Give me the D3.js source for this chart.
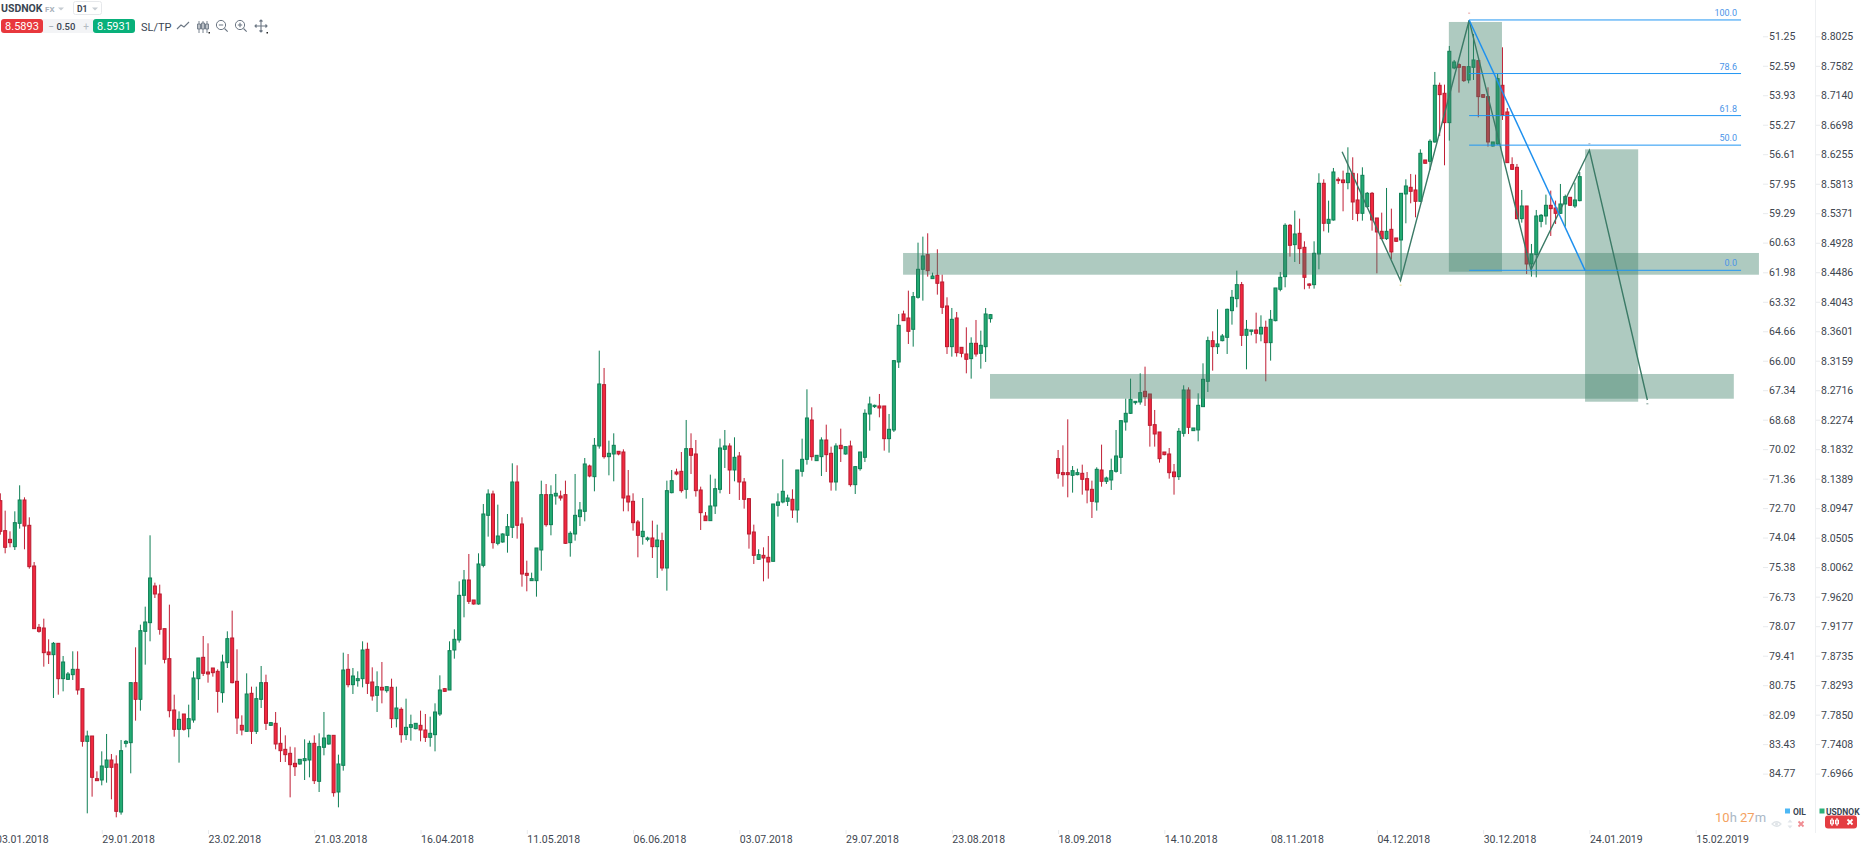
<!DOCTYPE html>
<html><head><meta charset="utf-8">
<script src="https://cdnjs.cloudflare.com/ajax/libs/d3/7.8.5/d3.min.js"></script>
<style>
html,body{margin:0;padding:0;background:#fff;overflow:hidden}
svg{display:block;font-family:Roboto,sans-serif}
</style></head><body>
<svg id="c" width="1866" height="853"></svg>
<script>
const n=null;
const opens=[8.106,8.061,8.048,8.037,8.072,8.107,8.069,8.008,7.916,7.915,
7.879,7.875,7.892,7.839,7.838,7.845,7.853,7.824,7.745,7.753,
7.689,7.687,7.706,7.717,7.711,7.639,7.742,7.743,7.833,7.808,
7.910,7.923,7.978,7.966,7.914,7.869,7.792,7.763,7.786,7.764,
7.777,7.839,7.871,7.849,7.855,7.850,7.818,7.863,7.900,7.835,
7.769,7.760,7.817,7.760,7.808,7.833,7.769,7.772,7.742,7.733,
7.727,7.712,7.711,7.716,7.717,7.742,7.685,7.736,7.741,7.754,
7.669,7.709,7.853,7.830,7.836,7.839,7.883,7.834,7.814,7.826,
7.821,7.826,7.779,7.793,7.755,7.766,7.764,7.769,7.762,7.751,
7.755,7.786,7.824,7.822,7.882,7.897,7.964,7.987,7.957,7.951,
8.009,8.084,8.116,8.042,8.044,8.054,8.066,8.134,8.071,7.997,
7.986,7.986,8.032,8.115,8.070,8.113,8.113,8.115,8.043,8.056,
8.082,8.090,8.158,8.142,8.188,8.280,8.172,8.176,8.180,8.179,
8.113,8.105,8.074,8.052,8.048,8.050,8.037,8.046,8.005,8.118,
8.149,8.150,8.123,8.184,8.176,8.122,8.083,8.076,8.098,8.123,
8.183,8.188,8.152,8.173,8.134,8.109,8.059,8.018,8.024,8.021,
8.015,8.099,8.104,8.105,8.108,8.092,8.150,8.168,8.227,8.166,
8.172,8.197,8.177,8.134,8.189,8.176,8.188,8.130,8.154,8.171,
8.236,8.247,8.248,8.248,8.199,8.212,8.314,8.386,8.380,8.363,
8.411,8.453,8.475,8.439,8.444,8.434,8.398,8.337,8.380,8.336,
8.326,8.319,8.342,8.327,8.337,8.379,
n,n,n,n,n,n,n,n,n,n,n,n,n,
8.169,8.148,8.148,8.144,8.145,8.147,8.139,8.123,8.104,8.152,8.135,
8.137,8.150,8.171,8.224,8.237,8.253,8.254,8.270,8.266,8.220,
8.209,8.179,8.176,8.149,8.142,8.207,8.272,8.211,8.212,8.247,
8.285,8.346,8.337,8.346,8.351,8.391,8.409,8.430,8.354,8.360,
8.362,8.356,8.366,8.343,8.376,8.423,8.442,8.519,8.490,8.507,
8.486,8.431,8.430,8.476,8.582,8.522,8.527,8.588,8.587,8.583,
8.597,8.557,8.537,8.547,8.567,8.530,8.510,8.499,8.513,8.500,
8.497,8.566,8.576,8.572,8.555,8.617,8.615,8.644,8.729,8.717,
8.673,8.755,8.760,8.757,8.737,8.756,8.766,8.715,8.712,8.638,
8.641,8.729,8.689,8.610,8.606,8.529,8.548,8.461,8.475,8.525,
8.533,8.549,8.545,8.537,8.551,8.561,8.548,8.556];
const closes=[8.060,8.036,8.043,8.073,8.107,8.068,8.007,7.914,7.910,7.878,
7.875,7.892,7.839,7.864,7.846,7.853,7.822,7.745,7.753,7.691,
7.686,7.708,7.717,7.706,7.640,7.731,7.745,7.833,7.808,7.911,
7.924,7.990,7.966,7.913,7.868,7.791,7.763,7.778,7.763,7.779,
7.840,7.870,7.847,7.846,7.848,7.820,7.864,7.899,7.833,7.780,
7.762,7.816,7.760,7.809,7.833,7.772,7.773,7.741,7.731,7.725,
7.710,7.707,7.718,7.719,7.742,7.686,7.737,7.750,7.754,7.668,
7.711,7.852,7.830,7.843,7.839,7.882,7.832,7.813,7.827,7.822,
7.827,7.779,7.795,7.755,7.766,7.770,7.772,7.762,7.751,7.757,
7.789,7.822,7.820,7.881,7.898,7.964,7.987,7.955,7.951,8.011,
8.086,8.116,8.043,8.053,8.056,8.067,8.134,8.069,7.996,7.994,
7.989,8.035,8.115,8.070,8.115,8.117,8.110,8.042,8.057,8.084,
8.092,8.161,8.143,8.189,8.281,8.172,8.177,8.189,8.176,8.110,
8.104,8.073,8.054,8.060,8.050,8.037,8.047,8.005,8.121,8.136,
8.146,8.121,8.184,8.174,8.121,8.088,8.076,8.098,8.124,8.185,
8.188,8.152,8.171,8.134,8.108,8.056,8.024,8.025,8.020,8.014,
8.101,8.104,8.120,8.110,8.092,8.152,8.168,8.230,8.172,8.174,
8.197,8.175,8.134,8.188,8.184,8.187,8.130,8.157,8.179,8.237,
8.251,8.249,8.245,8.199,8.213,8.316,8.369,8.376,8.360,8.412,
8.453,8.473,8.451,8.443,8.432,8.396,8.337,8.378,8.328,8.327,
8.318,8.342,8.326,8.339,8.386,8.385,
n,n,n,n,n,n,n,n,n,n,n,n,n,
8.147,8.145,8.145,8.151,8.148,8.138,8.122,8.105,8.153,8.135,8.140,
8.151,8.173,8.226,8.237,8.258,8.255,8.268,8.262,8.219,8.206,
8.169,8.175,8.148,8.142,8.210,8.272,8.216,8.215,8.249,8.288,
8.346,8.337,8.341,8.353,8.393,8.411,8.430,8.354,8.363,8.362,
8.357,8.366,8.343,8.378,8.425,8.441,8.519,8.489,8.506,8.484,
8.441,8.429,8.477,8.582,8.522,8.528,8.599,8.586,8.583,8.597,
8.554,8.537,8.594,8.567,8.527,8.509,8.499,8.510,8.479,8.495,
8.567,8.578,8.570,8.555,8.627,8.612,8.645,8.729,8.715,8.673,
8.780,8.764,8.756,8.736,8.757,8.767,8.712,8.711,8.644,8.644,
8.739,8.685,8.613,8.603,8.529,8.548,8.461,8.476,8.533,8.534,
8.549,8.544,8.537,8.551,8.562,8.549,8.557,8.592];
const highs=[8.117,8.091,8.060,8.090,8.129,8.111,8.081,8.014,7.921,7.929,
7.898,7.894,7.892,7.873,7.849,7.880,7.880,7.824,7.761,7.753,
7.700,7.730,7.756,7.726,7.724,7.747,7.747,7.833,7.886,7.920,
7.947,8.054,7.983,7.980,7.914,7.950,7.815,7.790,7.786,7.800,
7.850,7.870,7.903,7.892,7.855,7.853,7.875,7.910,7.941,7.883,
7.784,7.847,7.827,7.827,7.858,7.845,7.774,7.789,7.766,7.754,
7.737,7.736,7.718,7.748,7.746,7.754,7.757,7.789,7.755,7.754,
7.725,7.878,7.876,7.855,7.850,7.895,7.893,7.856,7.850,7.864,
7.827,7.839,7.827,7.796,7.809,7.785,7.772,7.791,7.786,7.782,
7.802,7.844,7.825,7.895,7.913,7.985,8.002,8.026,7.957,8.027,
8.101,8.123,8.121,8.100,8.057,8.086,8.162,8.159,8.081,8.016,
7.998,8.035,8.136,8.131,8.129,8.146,8.121,8.136,8.060,8.146,
8.104,8.170,8.160,8.200,8.331,8.305,8.196,8.207,8.180,8.183,
8.152,8.117,8.077,8.110,8.052,8.076,8.070,8.058,8.136,8.152,
8.154,8.179,8.227,8.207,8.197,8.127,8.089,8.145,8.139,8.199,
8.212,8.192,8.201,8.179,8.140,8.109,8.070,8.033,8.036,8.053,
8.101,8.117,8.168,8.115,8.123,8.152,8.199,8.273,8.246,8.174,
8.201,8.220,8.187,8.192,8.214,8.187,8.196,8.158,8.179,8.243,
8.262,8.250,8.266,8.248,8.236,8.317,8.386,8.391,8.421,8.419,
8.493,8.502,8.507,8.448,8.483,8.445,8.411,8.395,8.389,8.336,
8.366,8.351,8.377,8.361,8.395,8.386,
n,n,n,n,n,n,n,n,n,n,n,n,n,
8.182,8.189,8.228,8.158,8.154,8.160,8.149,8.136,8.156,8.190,8.142,
8.169,8.212,8.226,8.259,8.289,8.255,8.297,8.307,8.266,8.242,
8.209,8.179,8.185,8.161,8.215,8.279,8.276,8.215,8.267,8.312,
8.352,8.360,8.393,8.356,8.394,8.422,8.451,8.434,8.377,8.362,
8.388,8.384,8.376,8.392,8.425,8.449,8.522,8.521,8.541,8.529,
8.495,8.432,8.495,8.597,8.588,8.556,8.605,8.591,8.601,8.636,
8.621,8.597,8.606,8.569,8.569,8.530,8.538,8.575,8.544,8.500,
8.567,8.588,8.596,8.595,8.633,8.617,8.648,8.749,8.733,8.730,
8.788,8.767,8.762,8.758,8.825,8.806,8.767,8.715,8.726,8.644,
8.747,8.786,8.695,8.621,8.611,8.572,8.548,8.491,8.542,8.536,
8.565,8.571,8.556,8.581,8.565,8.561,8.583,8.599];
const lows=[8.055,8.027,8.036,8.032,8.064,8.033,8.004,7.914,7.908,7.857,
7.861,7.810,7.815,7.820,7.837,7.837,7.815,7.737,7.637,7.662,
7.686,7.679,7.683,7.658,7.631,7.635,7.736,7.697,7.776,7.791,
7.860,7.895,7.960,7.905,7.862,7.781,7.752,7.713,7.761,7.751,
7.773,7.807,7.843,7.833,7.842,7.788,7.803,7.855,7.832,7.756,
7.754,7.760,7.741,7.756,7.795,7.762,7.768,7.733,7.714,7.714,
7.661,7.693,7.710,7.687,7.691,7.681,7.669,7.724,7.740,7.662,
7.646,7.701,7.826,7.816,7.827,7.826,7.816,7.806,7.789,7.802,
7.818,7.765,7.766,7.743,7.747,7.746,7.763,7.745,7.744,7.737,
7.730,7.783,7.819,7.822,7.869,7.893,7.931,7.951,7.950,7.950,
8.006,8.052,8.034,8.039,8.043,8.028,8.050,8.049,7.977,7.970,
7.986,7.962,8.001,8.067,8.054,8.100,8.106,8.041,8.022,8.046,
8.068,8.075,8.141,8.120,8.184,8.169,8.144,8.135,8.174,8.090,
8.090,8.061,8.021,8.040,8.045,8.020,7.990,8.001,7.971,8.117,
8.144,8.118,8.109,8.146,8.112,8.062,8.076,8.076,8.086,8.117,
8.155,8.116,8.135,8.107,8.094,8.034,8.011,8.017,7.985,7.989,
8.015,8.082,8.102,8.098,8.080,8.073,8.142,8.160,8.166,8.166,
8.143,8.149,8.121,8.121,8.164,8.175,8.127,8.116,8.151,8.164,
8.211,8.245,8.231,8.181,8.178,8.209,8.305,8.376,8.341,8.337,
8.409,8.406,8.442,8.439,8.415,8.386,8.326,8.322,8.322,8.321,
8.297,8.289,8.322,8.304,8.314,8.373,
n,n,n,n,n,n,n,n,n,n,n,n,n,
8.139,8.127,8.111,8.118,8.144,8.115,8.102,8.080,8.091,8.127,8.131,
8.122,8.148,8.146,8.211,8.236,8.250,8.250,8.248,8.187,8.187,
8.163,8.174,8.139,8.115,8.137,8.202,8.206,8.211,8.195,8.247,
8.269,8.301,8.326,8.345,8.326,8.370,8.396,8.338,8.303,8.354,
8.342,8.345,8.285,8.316,8.375,8.420,8.426,8.472,8.464,8.461,
8.423,8.424,8.424,8.453,8.510,8.508,8.526,8.581,8.540,8.573,
8.527,8.525,8.526,8.546,8.511,8.447,8.499,8.497,8.468,8.494,
8.440,8.522,8.552,8.531,8.554,8.612,8.602,8.643,8.653,8.609,
8.646,8.753,8.718,8.734,8.732,8.737,8.681,8.710,8.637,8.637,
8.640,8.677,8.613,8.602,8.528,8.523,8.446,8.442,8.441,8.516,
8.520,8.503,8.521,8.536,8.517,8.548,8.545,8.555];

const priceTicks=[8.8025,8.7582,8.7140,8.6698,8.6255,8.5813,8.5371,8.4928,8.4486,8.4043,8.3601,8.3159,8.2716,8.2274,8.1832,8.1389,8.0947,8.0505,8.0062,7.9620,7.9177,7.8735,7.8293,7.7850,7.7408,7.6966];
const oilTicks=[51.25,52.59,53.93,55.27,56.61,57.95,59.29,60.63,61.98,63.32,64.66,66.00,67.34,68.68,70.02,71.36,72.70,74.04,75.38,76.73,78.07,79.41,80.75,82.09,83.43,84.77];
const dateLabels=["03.01.2018","29.01.2018","23.02.2018","21.03.2018","16.04.2018","11.05.2018","06.06.2018","03.07.2018","29.07.2018","23.08.2018","18.09.2018","14.10.2018","08.11.2018","04.12.2018","30.12.2018","24.01.2019","15.02.2019"];
const dateIndex=[-1,21,43,65,87,109,131,153,175,197,219,241,263,285,307,329,351];

// drawn objects, in candle index and USDNOK price
const zoneX0=[186.9,204.9,299.9,328.1], zoneX1=[364.1,358.9,310.9,339.1];
const zoneTop=[8.4775,8.2960,8.8240,8.6330], zoneBottom=[8.4449,8.2589,8.4494,8.2544];
const patternI=[277.8,289.9,304.1,316.9,329.0,341.0], patternP=[8.6294,8.4359,8.8265,8.4520,8.6315,8.2570];
const fibLevels=[100,78.6,61.8,50,0], fibLabels=["100.0","78.6","61.8","50.0","0.0"];
const fibHigh=8.827, fibLow=8.4515, fibI0=304.1, fibI1=360.4, fibLegEnd=328.1;

const svg=d3.select("#c");
const x=d3.scaleLinear([0,327],[0.33,1579.74]);
const y=d3.scaleLinear([8.8025,7.6966],[36.3,773.6]);
const yOil=d3.scaleLinear([51.25,84.77],[36.3,773.6]);

const candles=opens.map((o,i)=>({i,o,h:highs[i],l:lows[i],c:closes[i]})).filter(d=>d.o!==null);
const RED="#f2283f",REDS="#b81c30",REDW="#c01f35",GRN="#23ab73",GRNS="#0f7f55",GRNW="#0f7f55";
const up=d=>d.c>=d.o;
const gC=svg.append("g");
gC.selectAll("line").data(candles).join("line")
 .attr("x1",d=>x(d.i)).attr("x2",d=>x(d.i)).attr("y1",d=>y(d.h)).attr("y2",d=>y(d.l))
 .attr("stroke",d=>up(d)?GRNW:REDW).attr("stroke-width",1);
gC.selectAll("rect").data(candles).join("rect")
 .attr("x",d=>x(d.i)-1.5).attr("width",3)
 .attr("y",d=>y(Math.max(d.o,d.c)))
 .attr("height",d=>Math.max(1,y(Math.min(d.o,d.c))-y(Math.max(d.o,d.c))))
 .attr("fill",d=>up(d)?GRN:RED).attr("stroke",d=>up(d)?GRNS:REDS).attr("stroke-width",1);

// zones
svg.append("g").selectAll("rect").data(zoneX0).join("rect")
 .attr("x",(d)=>x(d)).attr("width",(d,i)=>x(zoneX1[i])-x(d))
 .attr("y",(d,i)=>y(zoneTop[i])).attr("height",(d,i)=>y(zoneBottom[i])-y(zoneTop[i]))
 .attr("fill","rgb(63,128,104)").attr("fill-opacity",.42);

// pattern
const pat=d3.line().x(d=>x(d[0])).y(d=>y(d[1]));
svg.append("path").datum(patternI.map((d,i)=>[d,patternP[i]])).attr("d",pat)
 .attr("fill","none").attr("stroke","#3b7a66").attr("stroke-width",1.4);

// fibonacci
const fibY=l=>y(fibLow+(fibHigh-fibLow)*l/100);
const gF=svg.append("g");
gF.selectAll("line").data(fibLevels).join("line")
 .attr("x1",x(fibI0)).attr("x2",x(fibI1)).attr("y1",fibY).attr("y2",fibY)
 .attr("stroke","#2196f3").attr("stroke-width",1);
svg.append("line").attr("x1",x(fibI0)).attr("y1",y(fibHigh)).attr("x2",x(fibLegEnd)).attr("y2",y(fibLow))
 .attr("stroke","#1e90ee").attr("stroke-width",1.5);
gF.selectAll("text").data(fibLevels).join("text")
 .attr("x",x(fibI1)-4).attr("y",d=>fibY(d)-4).attr("text-anchor","end")
 .attr("font-size",9).attr("fill","#4a94e8").text((d,i)=>fibLabels[i]);

// tiny point marks
[[304.1,8.838,"#e8a0a0"],[329,8.642,"#98a8b8"],[289.9,8.430,"#e8d890"],[341,8.252,"#7a9a90"]].forEach(p=>{
 svg.append("rect").attr("x",x(p[0])-1).attr("y",y(p[1])).attr("width",2).attr("height",1).attr("fill",p[2]);
});

// axes
function styleAxis(g){
 g.select(".domain").remove();
 g.selectAll(".tick line").attr("stroke","#e8eaed");
 g.selectAll(".tick text").attr("fill","#3e4650").attr("font-size",10.5).attr("font-family","Roboto,sans-serif");
}
const axL=svg.append("g").attr("transform","translate(1763,0)")
 .call(d3.axisRight(yOil).tickValues(oilTicks).tickFormat(d3.format(".2f")).tickSize(5).tickPadding(1));
styleAxis(axL);
const axR=svg.append("g").attr("transform","translate(1815,0)")
 .call(d3.axisRight(y).tickValues(priceTicks).tickFormat(d3.format(".4f")).tickSize(5).tickPadding(1));
styleAxis(axR);
const axX=svg.append("g").attr("transform","translate(0,830)")
 .call(d3.axisBottom(x).tickValues(dateIndex).tickFormat((d,i)=>dateLabels[i]).tickSize(4).tickPadding(2));
styleAxis(axX);
axX.selectAll(".tick text").attr("text-anchor","start").attr("x",0).attr("dy","0.71em").attr("y",6);
svg.append("line").attr("x1",1815.5).attr("x2",1815.5).attr("y1",0).attr("y2",833).attr("stroke","#eef0f2");

// legend / countdown
const t=(s,xx,yy,size,fill,weight,anchor)=>svg.append("text").attr("x",xx).attr("y",yy).attr("font-size",size)
 .attr("fill",fill).attr("font-weight",weight||400).attr("text-anchor",anchor||"start").text(s);
const cd=svg.append("text").attr("x",1715).attr("y",822).attr("font-size",13);
[["10","#f4a261"],["h ","#aab8c6"],["27","#f4a261"],["m","#aab8c6"]].forEach(a=>cd.append("tspan").attr("fill",a[1]).text(a[0]));
svg.append("rect").attr("x",1785).attr("y",808.5).attr("width",5).attr("height",5).attr("fill","#4db8f5");
t("OIL",1793,814.5,8.5,"#3a4552",700);
svg.append("rect").attr("x",1819.5).attr("y",808.5).attr("width",5).attr("height",5).attr("fill","#2bb07a");
t("USDNOK",1826,814.5,8.5,"#3a4552",700);
svg.append("rect").attr("x",1825).attr("y",815.5).attr("width",32).attr("height",13).attr("rx",3).attr("fill","#e43d42");
svg.append("path").attr("d","M1832 818v8M1837 818v8M1830.5 820h3v4h-3zM1835.5 820h3v4h-3z").attr("stroke","#fff").attr("stroke-width",1).attr("fill","none");
svg.append("path").attr("d","M1847.5 819.5l5 5M1852.5 819.5l-5 5").attr("stroke","#fff").attr("stroke-width",1.8);
svg.append("path").attr("d","M1772 824q4.5-4.5 9 0q-4.5 4.5-9 0z").attr("fill","none").attr("stroke","#dfe4e8").attr("stroke-width",1.2);
svg.append("circle").attr("cx",1776.5).attr("cy",824).attr("r",1.5).attr("fill","#dfe4e8");
svg.append("path").attr("d","M1787.5 822.5l2.5-3l2.5 3zM1787.5 825.5l2.5 3l2.5-3z").attr("fill","#e2e6ea");
svg.append("path").attr("d","M1798.5 821.5l5 5M1803.5 821.5l-5 5").attr("stroke","#f08c92").attr("stroke-width",1.8);

// header
t("USDNOK",1,12,10.5,"#3a4552",700);
t("FX",45,11.5,8,"#a9b2bb",700);
svg.append("path").attr("d","M58 7.5h6l-3 3z").attr("fill","#c6ccd2");
svg.append("rect").attr("x",73.5).attr("y",1.5).attr("width",28).attr("height",13).attr("rx",2).attr("fill","#fff").attr("stroke","#e6e8eb");
t("D1",77,11.5,8.5,"#3a4552",700);
svg.append("path").attr("d","M92 7.5h6l-3 3z").attr("fill","#c6ccd2");
svg.append("rect").attr("x",1).attr("y",19).attr("width",42).attr("height",14).attr("rx",3).attr("fill","#e8383d");
svg.append("rect").attr("x",43).attr("y",19).attr("width",50).attr("height",14).attr("fill","#f3f4f6");
svg.append("rect").attr("x",93).attr("y",19).attr("width",42).attr("height",14).attr("rx",3).attr("fill","#08b07a");
t("8.5893",22,30,11,"#fff",400,"middle");
t("−",51,30,10,"#9aa3ac",400,"middle");
t("0.50",66,30,9.5,"#3a4552",500,"middle");
t("+",86,30,10,"#b4bbc2",400,"middle");
t("8.5931",114,30,11,"#fff",400,"middle");
t("SL/TP",141,30.5,11,"#3a4552");
const ic="#6b7683";
const icon=(d,w)=>svg.append("path").attr("d",d).attr("fill","none").attr("stroke",ic).attr("stroke-width",w||1.1);
icon("M177 29l4-4l3 2l5-5");
icon("M199 21v12M203 21v12M207 21v12M197.5 24h3v5h-3zM201.5 23h3v6h-3zM205.5 24h3v5h-3z",.9);
svg.append("rect").attr("x",208.5).attr("y",32).attr("width",1.5).attr("height",1.5).attr("fill","#222");
svg.append("circle").attr("cx",221).attr("cy",25).attr("r",4.6).attr("fill","none").attr("stroke",ic);
icon("M218.8 25h4.4M224.5 28.5l3.2 3.2");
svg.append("circle").attr("cx",240).attr("cy",25).attr("r",4.6).attr("fill","none").attr("stroke",ic);
icon("M237.8 25h4.4M240 22.8v4.4M243.5 28.5l3.2 3.2");
icon("M261 20v12M255 26h12M259.5 21.5l1.5-1.5l1.5 1.5M259.5 30.5l1.5 1.5l1.5-1.5M256.5 24.5l-1.5 1.5l1.5 1.5M265.5 24.5l1.5 1.5l-1.5 1.5");
svg.append("rect").attr("x",266.5).attr("y",32).attr("width",1.5).attr("height",1.5).attr("fill","#222");
</script>
</body></html>
